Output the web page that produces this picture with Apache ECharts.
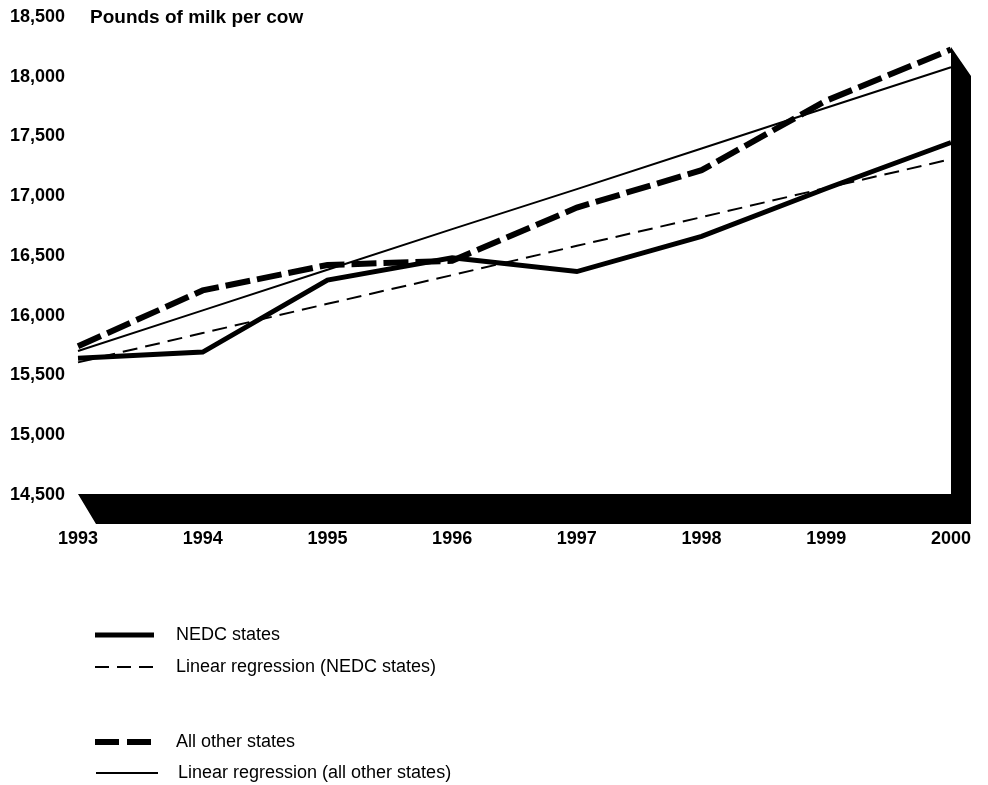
<!DOCTYPE html>
<html>
<head>
<meta charset="utf-8">
<script src="https://cdn.jsdelivr.net/npm/echarts@6/dist/echarts.min.js"></script>
<style>
  html, body { margin: 0; padding: 0; background: #fff; }
  #chart { width: 988px; height: 785px; }
</style>
</head>
<body>
<div id="chart"></div>
<script>
// Milk production per cow, 1993-2000
const years = ['1993', '1994', '1995', '1996', '1997', '1998', '1999', '2000'];
const nedcStates = [15645, 15696, 16298, 16485, 16370, 16665, 17065, 17450];
const nedcTrend = [15610, 15855, 16100, 16340, 16585, 16825, 17070, 17310];
const otherStates = [15745, 16212, 16425, 16460, 16905, 17218, 17800, 18228];
const otherTrend = [15705, 16045, 16385, 16725, 17060, 17400, 17740, 18080];

const yMin = 14500;
const yMax = 18500;
const yStep = 500;
const wallTop = 18250;

const legendLabels = [
  'NEDC states',
  'Linear regression (NEDC states)',
  'All other states',
  'Linear regression (all other states)'
];

const FONT = '"Liberation Sans", Arial, Helvetica, sans-serif';

const seriesStyles = [
  { data: nedcStates, width: 5, type: 'solid', z: 4 },
  { data: nedcTrend, width: 2, type: [15, 8], z: 3 },
  { data: otherStates, width: 6, type: [25, 7], z: 4 },
  { data: otherTrend, width: 2, type: 'solid', z: 3 }
];

const chart = echarts.init(document.getElementById('chart'), null, { renderer: 'canvas' });

const option = {
  animation: false,
  backgroundColor: '#ffffff',
  grid: { left: 78, right: 37, top: 17, bottom: 290, containLabel: false },
  xAxis: {
    type: 'category',
    data: years,
    boundaryGap: false,
    axisLine: { show: false },
    axisTick: { show: false },
    splitLine: { show: false },
    axisLabel: {
      margin: 35,
      color: '#000',
      fontFamily: FONT,
      fontWeight: 'bold',
      fontSize: 18
    }
  },
  yAxis: {
    type: 'value',
    min: yMin,
    max: yMax,
    interval: yStep,
    axisLine: { show: false },
    axisTick: { show: false },
    splitLine: { show: false },
    axisLabel: {
      margin: 13,
      color: '#000',
      fontFamily: FONT,
      fontWeight: 'bold',
      fontSize: 18,
      formatter: v => v.toLocaleString('en-US')
    }
  },
  series: seriesStyles.map((s, i) => ({
    name: legendLabels[i],
    type: 'line',
    data: s.data,
    symbol: 'none',
    z: s.z,
    lineStyle: { color: '#000', width: s.width, type: s.type, cap: 'butt', join: 'miter' }
  }))
};

chart.setOption(option);

// Depth wall along the bottom and right edges of the plot, plus title and key
function buildGraphics() {
  const p0 = chart.convertToPixel({ xAxisIndex: 0, yAxisIndex: 0 }, [0, yMin]);
  const p1 = chart.convertToPixel({ xAxisIndex: 0, yAxisIndex: 0 }, [years.length - 1, yMin]);
  const p2 = chart.convertToPixel({ xAxisIndex: 0, yAxisIndex: 0 }, [years.length - 1, wallTop]);
  const dx = 20, dy = 29;

  const elements = [
    {
      type: 'polygon',
      z: 1,
      shape: {
        points: [
          [p0[0], p0[1] - 1],
          [p1[0], p1[1] - 1],
          [p2[0], p2[1]],
          [p2[0] + dx, p2[1] + dy],
          [p1[0] + dx, p1[1] + dy],
          [p0[0] + dx - 2, p0[1] + dy]
        ]
      },
      style: { fill: '#000' }
    },
    {
      type: 'text',
      left: 90,
      top: 8,
      z: 5,
      style: {
        text: 'Pounds of milk per cow',
        fill: '#000',
        font: 'bold 19px ' + FONT
      }
    }
  ];

  const keyRows = [635, 667, 742, 773];
  const keyStyles = [
    { width: 5, dash: null, x0: 95, x1: 154 },
    { width: 2, dash: [14, 8], x0: 95, x1: 154 },
    { width: 6, dash: [24, 8], x0: 95, x1: 154 },
    { width: 2, dash: null, x0: 96, x1: 158 }
  ];
  keyRows.forEach((y, i) => {
    const k = keyStyles[i];
    elements.push({
      type: 'line',
      z: 5,
      shape: { x1: k.x0, y1: y, x2: k.x1, y2: y },
      style: { stroke: '#000', lineWidth: k.width, lineDash: k.dash, lineCap: 'butt' }
    });
    elements.push({
      type: 'text',
      z: 5,
      x: i === 3 ? 178 : 176,
      y: y,
      style: {
        text: legendLabels[i],
        fill: '#000',
        font: '18px ' + FONT,
        verticalAlign: 'middle'
      }
    });
  });
  return elements;
}

chart.setOption({ graphic: buildGraphics() });
</script>
</body>
</html>
